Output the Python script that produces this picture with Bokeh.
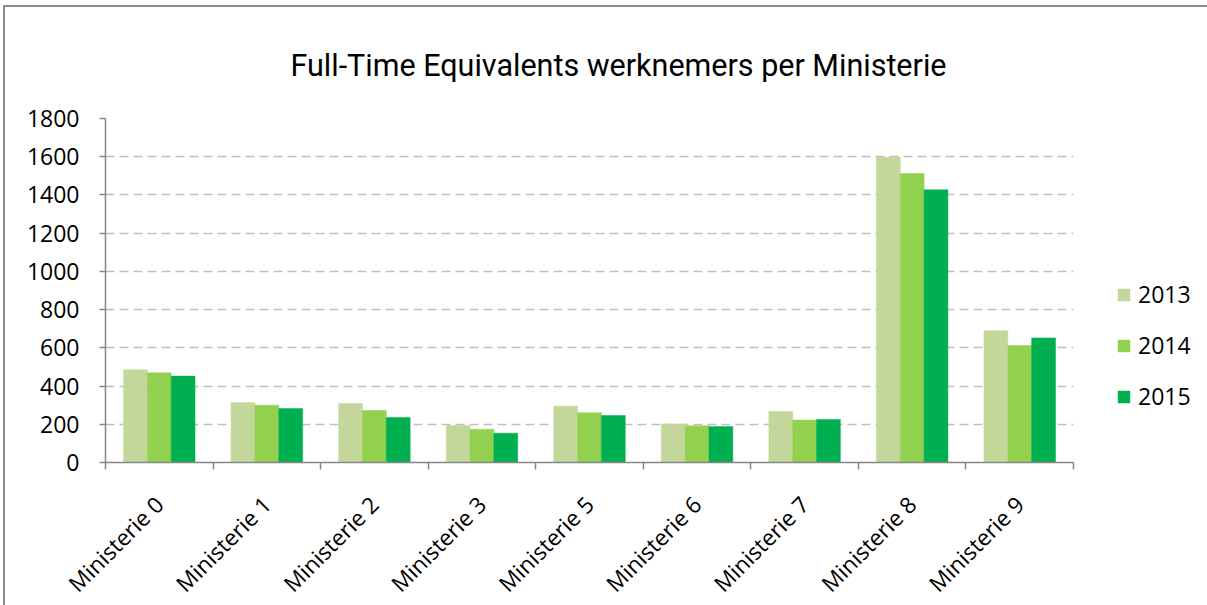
import numpy as np
from bokeh.plotting import figure
from bokeh.models import (Range1d, FixedTicker, Legend, LegendItem, Title, ColumnDataSource)
from bokeh.embed import file_html
from bokeh.resources import INLINE

categories = ["Ministerie 0", "Ministerie 1", "Ministerie 2", "Ministerie 3", "Ministerie 5",
              "Ministerie 6", "Ministerie 7", "Ministerie 8", "Ministerie 9"]
years = ["2013", "2014", "2015"]
fte_2013 = [485, 314, 309, 194, 295, 202, 267, 1597, 689]
fte_2014 = [469, 300, 272, 174, 260, 192, 222, 1512, 612]
fte_2015 = [452, 283, 235, 153, 246, 188, 225, 1427, 652]
y_ticks = [0, 200, 400, 600, 800, 1000, 1200, 1400, 1600, 1800]

colors = ["#C4D79B", "#92D050", "#00B050"]
series = [fte_2013, fte_2014, fte_2015]

p = figure(frame_width=968, frame_height=344, output_backend="svg", toolbar_location=None,
           x_range=Range1d(0, len(categories)), y_range=Range1d(0, 1800),
           min_border_left=100, min_border_right=134, min_border_top=111, min_border_bottom=143)
p.outline_line_color = None
p.background_fill_color = "white"
p.border_fill_color = "white"
p.styles = {"border-left": "2px solid #8c8c8c", "border-top": "2px solid #8c8c8c",
            "margin-left": "3px", "margin-top": "5px"}

bw = 0.2217
centers = np.arange(len(categories)) + 0.5
renderers = []
for k, (vals, col) in enumerate(zip(series, colors)):
    src = ColumnDataSource(dict(x=centers + (k - 1) * bw, top=vals))
    r = p.vbar(x="x", top="top", width=bw, bottom=0, source=src,
               fill_color=col, line_color=col, line_width=0.5)
    renderers.append(r)

# title
t = Title(text="Full-Time Equivalents werknemers per Ministerie", align="left",
          text_font="Roboto", text_font_size="30.5px", text_font_style="normal",
          text_color="black", offset=185, standoff=71)
p.add_layout(t, "above")

axis_col = "#868686"
tick_font = "Open Sans"
# x axis
xa = p.xaxis[0]
xa.ticker = FixedTicker(ticks=list(centers), minor_ticks=list(range(len(categories) + 1)))
xa.major_label_overrides = {float(c): n for c, n in zip(centers, categories)}
xa.major_label_orientation = np.pi / 4
xa.major_tick_line_color = None
xa.major_tick_out = 0
xa.major_tick_in = 0
xa.minor_tick_line_color = axis_col
xa.minor_tick_line_width = 1.5
xa.minor_tick_out = 7
xa.minor_tick_in = 0
xa.axis_line_color = axis_col
xa.axis_line_width = 1.5
xa.major_label_text_font = tick_font
xa.major_label_text_font_size = "22.5px"
xa.major_label_text_color = "black"
xa.major_label_standoff = 31

ya = p.yaxis[0]
ya.ticker = FixedTicker(ticks=y_ticks)
ya.axis_line_color = axis_col
ya.axis_line_width = 1.5
ya.major_tick_line_color = axis_col
ya.major_tick_line_width = 1.5
ya.major_tick_out = 6
ya.major_tick_in = 0
ya.minor_tick_line_color = None
ya.major_label_text_font = tick_font
ya.major_label_text_font_size = "23px"
ya.major_label_text_color = "black"
ya.major_label_standoff = 20

p.xgrid.grid_line_color = None
p.ygrid.grid_line_color = "#BFBFBF"
p.ygrid.grid_line_width = 1.5
p.ygrid.grid_line_dash = "9 5"

legend = Legend(items=[LegendItem(label=y, renderers=[r]) for y, r in zip(years, renderers)],
                location=(43, 50), orientation="vertical",
                glyph_width=15, glyph_height=15, label_standoff=7, spacing=19,
                padding=0, margin=0, border_line_color=None, background_fill_alpha=0,
                label_text_font=tick_font, label_text_font_size="23px", label_text_color="black")
p.add_layout(legend, "right")

open("out.html", "w").write(file_html(p, INLINE))
